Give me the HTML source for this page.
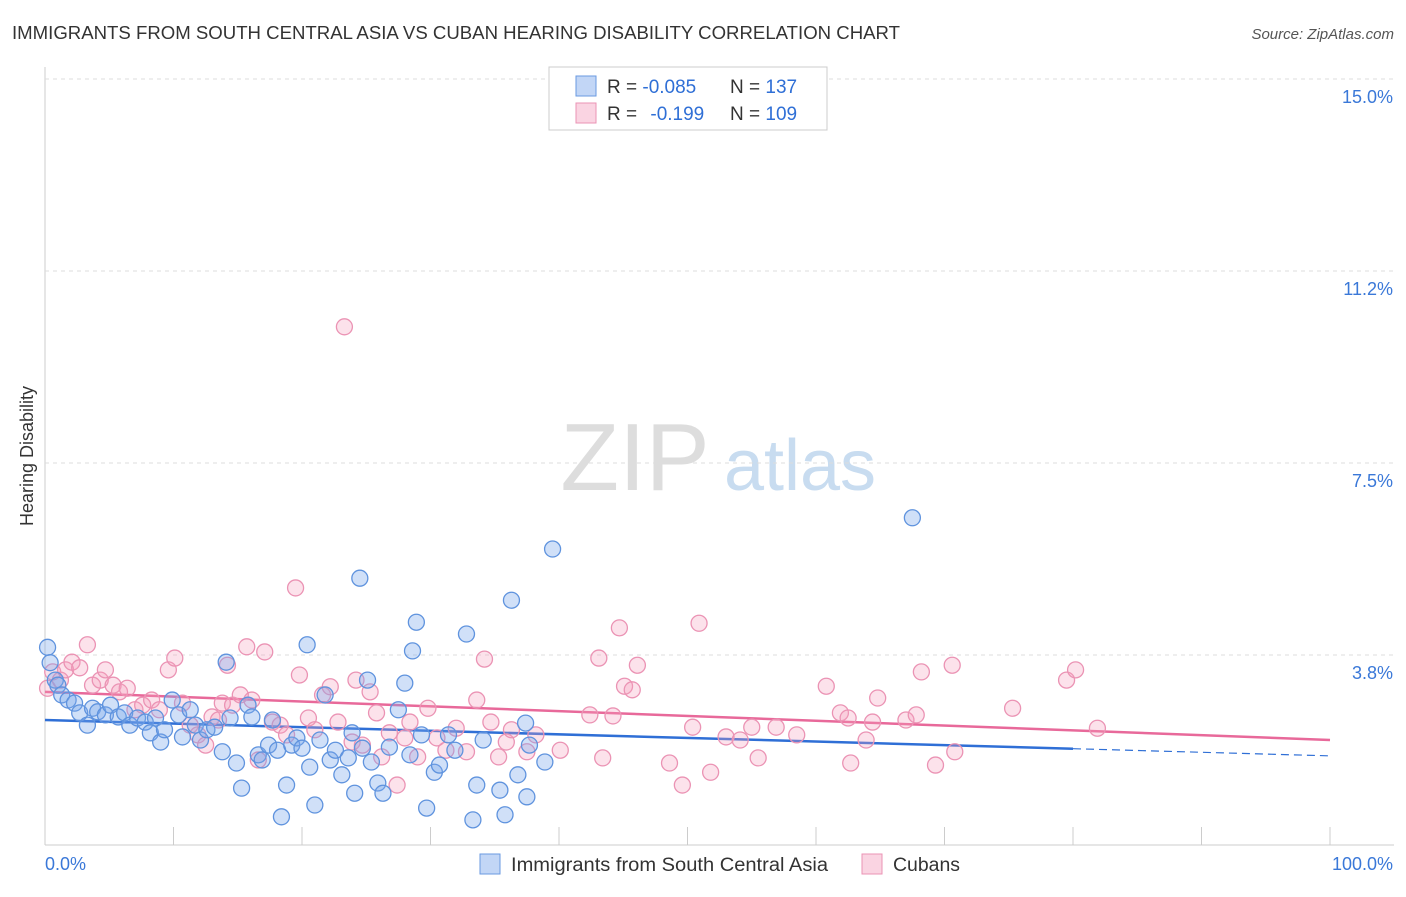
<!DOCTYPE html>
<html><head><meta charset="utf-8"><style>
body{margin:0;background:#fff;font-family:"Liberation Sans",sans-serif;}
svg text{font-family:"Liberation Sans",sans-serif;}
</style></head><body>
<svg id="chart" width="1406" height="892">
<text x="12" y="39" font-size="18" fill="#333" textLength="888" lengthAdjust="spacingAndGlyphs">IMMIGRANTS FROM SOUTH CENTRAL ASIA VS CUBAN HEARING DISABILITY CORRELATION CHART</text>
<text x="1394" y="39" font-size="15" fill="#555" font-style="italic" text-anchor="end">Source: ZipAtlas.com</text>
<text transform="translate(33,456) rotate(-90)" font-size="18" fill="#333" text-anchor="middle">Hearing Disability</text>
<g>
<text x="635" y="490" font-size="96" font-family="Liberation Serif" fill="#ddd" text-anchor="middle">ZIP</text>
<text x="800" y="490" font-size="72" fill="#c8dcf0" text-anchor="middle">atlas</text>
</g>
<g id="grid"></g>
<g id="trends"></g>
<g id="points"></g>
<g>
<rect x="549" y="67" width="278" height="63" fill="#fff" stroke="#ccc"/>
<rect x="576" y="76" width="20" height="20" fill="rgba(120,165,235,0.45)" stroke="#6a9ae0"/>
<rect x="576" y="103" width="20" height="20" fill="rgba(245,160,190,0.45)" stroke="#eb93b4"/>
<text x="607" y="93" font-size="19" fill="#333">R = <tspan fill="#2f6fd6">-0.085</tspan></text>
<text x="730" y="93" font-size="19" fill="#333">N = <tspan fill="#2f6fd6">137</tspan></text>
<text x="607" y="120" font-size="19" fill="#333">R = <tspan fill="#2f6fd6" dx="8">-0.199</tspan></text>
<text x="730" y="120" font-size="19" fill="#333">N = <tspan fill="#2f6fd6">109</tspan></text>
</g>
<g>
<rect x="480" y="854" width="20" height="20" fill="rgba(120,165,235,0.45)" stroke="#6a9ae0"/>
<text x="511" y="871" font-size="19" fill="#333" textLength="317" lengthAdjust="spacingAndGlyphs">Immigrants from South Central Asia</text>
<rect x="862" y="854" width="20" height="20" fill="rgba(245,160,190,0.45)" stroke="#eb93b4"/>
<text x="893" y="871" font-size="19" fill="#333" textLength="67" lengthAdjust="spacingAndGlyphs">Cubans</text>
</g>
</svg>
<script>
const yTicks=[3.75,7.5,11.25,15];
const yTickLabels=["3.8%","7.5%","11.2%","15.0%"];
const xTicks=[0,10,20,30,40,50,60,70,80,90,100];
const blueX=[0.2,0.4,0.8,1.0,1.3,1.8,2.3,2.7,3.3,3.7,4.1,4.7,5.1,5.7,6.2,6.6,7.2,7.8,8.2,8.6,9.0,9.3,9.9,10.4,10.7,11.3,11.7,12.1,12.6,13.2,13.8,14.1,14.4,14.9,15.3,15.8,16.1,16.6,16.9,17.4,17.7,18.1,18.4,18.8,19.2,19.6,20.0,20.4,20.6,21.0,21.4,21.8,22.2,22.6,23.1,23.6,23.9,24.1,24.5,24.7,25.1,25.4,25.9,26.3,26.8,27.5,28.0,28.4,28.6,28.9,29.3,29.7,30.3,30.7,31.4,31.9,32.8,33.3,33.6,34.1,35.4,35.8,36.3,36.8,37.4,37.5,37.7,38.9,39.5,67.5];
const blueY=[3.9,3.6,3.26,3.16,2.97,2.87,2.81,2.62,2.38,2.71,2.64,2.58,2.77,2.54,2.62,2.38,2.52,2.44,2.23,2.52,2.05,2.29,2.87,2.58,2.15,2.68,2.38,2.09,2.29,2.34,1.86,3.61,2.52,1.64,1.15,2.77,2.54,1.8,1.7,1.99,2.48,1.89,0.59,1.21,1.99,2.13,1.93,3.95,1.56,0.82,2.09,2.97,1.7,1.89,1.41,1.74,2.23,1.05,5.25,1.93,3.26,1.66,1.25,1.05,1.95,2.68,3.2,1.8,3.83,4.39,2.19,0.76,1.46,1.6,2.19,1.89,4.16,0.53,1.21,2.09,1.11,0.63,4.82,1.41,2.42,0.98,1.99,1.66,5.82,6.43];
const pinkX=[0.2,0.6,1.2,1.6,2.1,2.7,3.3,3.7,4.3,4.7,5.3,5.8,6.4,7.0,7.6,8.3,8.9,9.6,10.1,10.7,11.3,11.9,12.5,13.0,13.5,13.8,14.2,14.6,15.2,15.7,16.1,16.6,17.1,17.7,18.3,18.8,19.5,19.8,20.5,21.0,21.6,22.2,22.8,23.3,23.9,24.2,24.7,25.3,25.8,26.2,26.8,27.4,28.0,28.4,29.0,29.8,30.5,31.2,32.0,32.8,33.6,34.2,34.7,35.3,35.9,36.3,37.5,38.2,40.1,42.4,43.1,43.4,44.2,44.7,45.1,45.7,46.1,48.6,49.6,50.4,50.9,51.8,53.0,54.1,55.0,55.5,56.9,58.5,60.8,61.9,62.5,62.7,63.9,64.4,64.8,67.0,67.8,68.2,69.3,70.6,70.8,75.3,79.5,80.2,81.9];
const pinkY=[3.1,3.42,3.26,3.46,3.61,3.5,3.95,3.16,3.26,3.46,3.16,3.03,3.1,2.68,2.77,2.87,2.68,3.46,3.69,2.81,2.38,2.19,1.99,2.54,2.48,2.81,3.55,2.77,2.97,3.91,2.87,1.7,3.81,2.44,2.38,2.19,5.06,3.36,2.52,2.29,2.97,3.13,2.44,10.16,2.05,3.26,1.99,3.03,2.62,1.76,2.23,1.21,2.13,2.44,1.76,2.71,2.13,1.89,2.32,1.86,2.87,3.67,2.44,1.76,2.05,2.29,1.86,2.19,1.89,2.58,3.69,1.74,2.56,4.28,3.14,3.07,3.55,1.64,1.21,2.34,4.37,1.46,2.15,2.09,2.34,1.74,2.34,2.19,3.14,2.62,2.52,1.64,2.09,2.44,2.91,2.48,2.58,3.42,1.6,3.55,1.86,2.71,3.26,3.46,2.32];
const blueTrend=[2.48,1.78];
const pinkTrend=[3.03,2.09];
const blueSolidEnd=80;

const NS="http://www.w3.org/2000/svg";
const xs=v=>45+v*12.85;
const ys=v=>847-v*51.2;
function mk(tag,attrs,parent){const e=document.createElementNS(NS,tag);for(const k in attrs)e.setAttribute(k,attrs[k]);parent.appendChild(e);return e;}
const grid=document.getElementById('grid');
mk('line',{x1:45,y1:845,x2:1394,y2:845,stroke:'#ccc'},grid);
mk('line',{x1:45,y1:67,x2:45,y2:845,stroke:'#ccc'},grid);
yTicks.forEach((t,i)=>{
  const g=mk('line',{x1:45,y1:ys(t),x2:1394,y2:ys(t),stroke:'#ddd','stroke-dasharray':'4,4'},grid);
  
  
  const tx=mk('text',{x:1393,y:ys(t)+24,'font-size':18,fill:'#3a78d8','text-anchor':'end'},grid);
  tx.textContent=yTickLabels[i];
  
  
});
xTicks.forEach(t=>{
  const l=mk('line',{x1:xs(t),y1:827,x2:xs(t),y2:845,stroke:'#ccc'},grid);
  
  
});
const xl0=mk('text',{x:45,y:870,'font-size':18,fill:'#3a78d8'},grid);xl0.textContent='0.0%';


const xl1=mk('text',{x:1393,y:870,'font-size':18,fill:'#3a78d8','text-anchor':'end'},grid);xl1.textContent='100.0%';



const pts=document.getElementById('points');
pinkX.forEach((x,i)=>{
  const c=mk('circle',{cx:xs(x),cy:ys(pinkY[i]),r:8,fill:'rgba(245,160,190,0.3)',stroke:'#eb93b4','stroke-width':1.3},pts);
  
  
});
blueX.forEach((x,i)=>{
  const c=mk('circle',{cx:xs(x),cy:ys(blueY[i]),r:8,fill:'rgba(120,165,235,0.35)',stroke:'#5f93de','stroke-width':1.3},pts);
  
  
});
const tr=document.getElementById('trends');
const bAt=x=>blueTrend[0]+(blueTrend[1]-blueTrend[0])*x/100;
const pl=mk('line',{x1:xs(0),y1:ys(pinkTrend[0]),x2:xs(100),y2:ys(pinkTrend[1]),stroke:'#e8699a','stroke-width':2.5},tr);


const bl=mk('line',{x1:xs(0),y1:ys(bAt(0)),x2:xs(blueSolidEnd),y2:ys(bAt(blueSolidEnd)),stroke:'#2f6fd6','stroke-width':2.5},tr);


const bd=mk('line',{x1:xs(blueSolidEnd),y1:ys(bAt(blueSolidEnd)),x2:xs(100),y2:ys(bAt(100)),stroke:'#2f6fd6','stroke-width':1.2,'stroke-dasharray':'8,5'},tr);


</script>
</body></html>
